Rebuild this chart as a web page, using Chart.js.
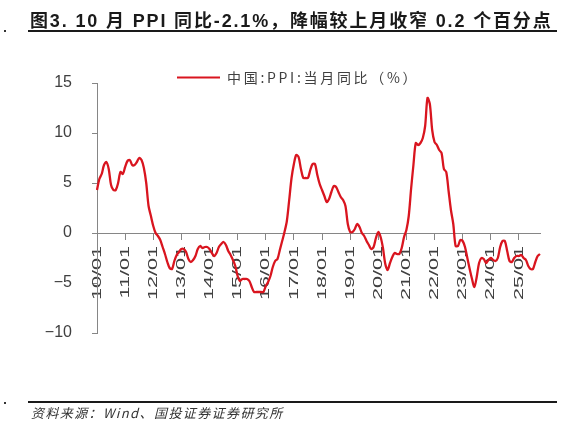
<!DOCTYPE html>
<html>
<head>
<meta charset="utf-8">
<script src="https://cdn.jsdelivr.net/npm/chart.js@4.4.1/dist/chart.umd.min.js"></script>
<style>
  html, body { margin:0; padding:0; background:#fff; }
  #wrap { position:relative; width:567px; height:425px; overflow:hidden; }
  #c { position:absolute; left:0; top:0; }
  .txt { position:absolute; white-space:nowrap; color:#1a1a1a; }
  #title { left:30px; top:6px; font-weight:bold; font-size:18px; font-family:"Liberation Sans","Noto Sans CJK SC",sans-serif; letter-spacing:1.85px; }
  #tline { position:absolute; left:28px; top:30px; width:529px; height:2px; background:#1a1a1a; }
  #bline { position:absolute; left:28px; top:401px; width:529px; height:2px; background:#1a1a1a; }
  .dot { position:absolute; width:2px; height:2px; background:#333; }
  #src { left:31px; top:403px; font-size:13px; font-style:italic; font-family:"Noto Sans CJK SC",sans-serif; color:#333; letter-spacing:1.4px; }
</style>
</head>
<body>
<div id="wrap">
  <canvas id="c" width="567" height="425"></canvas>
  <div class="txt" id="title">图3. 10 月 PPI 同比-2.1%，降幅较上月收窄 0.2 个百分点</div>
  <div id="tline"></div>
  <div class="dot" style="left:4px;top:30px;"></div>
  <div id="bline"></div>
  <div class="dot" style="left:4px;top:402px;"></div>
  <div class="txt" id="src">资料来源：Wind、国投证券证券研究所</div>
</div>
<script>
// ---- data ----
const years = [2010,2011,2012,2013,2014,2015,2016,2017,2018,2019,2020,2021,2022,2023,2024,2025];
const seriesName = '中国:PPI:当月同比（%）';
const ppiYoY = [
  // 2010
  4.3, 5.4, 5.9, 6.8, 7.1, 6.4, 4.8, 4.3, 4.3, 5.0, 6.1, 5.9,
  // 2011
  6.6, 7.2, 7.3, 6.8, 6.8, 7.1, 7.5, 7.3, 6.5, 5.0, 2.7, 1.7,
  // 2012
  0.7, 0.0, -0.3, -0.7, -1.4, -2.1, -2.9, -3.5, -3.6, -2.8, -2.2, -1.9,
  // 2013
  -1.6, -1.6, -1.9, -2.6, -2.9, -2.7, -2.3, -1.6, -1.3, -1.5, -1.4, -1.4,
  // 2014
  -1.6, -2.0, -2.3, -2.0, -1.4, -1.1, -0.9, -1.2, -1.8, -2.2, -2.7, -3.3,
  // 2015
  -4.3, -4.8, -4.6, -4.6, -4.6, -4.8, -5.4, -5.9, -5.9, -5.9, -5.9, -5.9,
  // 2016
  -5.3, -4.9, -4.3, -3.4, -2.8, -2.6, -1.7, -0.8, 0.1, 1.2, 3.3, 5.5,
  // 2017
  6.9, 7.8, 7.6, 6.4, 5.5, 5.5, 5.5, 6.3, 6.9, 6.9, 5.8, 4.9,
  // 2018
  4.3, 3.7, 3.1, 3.4, 4.1, 4.7, 4.6, 4.1, 3.6, 3.3, 2.7, 0.9,
  // 2019
  0.1, 0.1, 0.4, 0.9, 0.6, 0.0, -0.3, -0.8, -1.2, -1.6, -1.4, -0.5,
  // 2020
  0.1, -0.4, -1.5, -3.1, -3.7, -3.0, -2.4, -2.0, -2.1, -2.1, -1.5, -0.4,
  // 2021
  0.3, 1.7, 4.4, 6.8, 9.0, 8.8, 9.0, 9.5, 10.7, 13.5, 12.9, 10.3,
  // 2022
  9.1, 8.8, 8.3, 8.0, 6.4, 6.1, 4.2, 2.3, 0.9, -1.3, -1.3, -0.7,
  // 2023
  -0.8, -1.4, -2.5, -3.6, -4.6, -5.4, -4.4, -3.0, -2.5, -2.6, -3.0, -2.7,
  // 2024
  -2.5, -2.7, -2.8, -2.5, -1.4, -0.8, -0.8, -1.8, -2.8, -2.9, -2.5, -2.3,
  // 2025
  -2.3, -2.2, -2.5, -2.7, -3.3, -3.6, -3.6, -2.9, -2.3, -2.1
];
const yTicks = [-10, -5, 0, 5, 10, 15];

// categories: one label per month
const months = [];
years.forEach(y => { for (let m = 1; m <= 12; m++) months.push(String(y).slice(2) + '/' + String(m).padStart(2, '0')); });
const categories = months.slice(0, ppiYoY.length);

const RED = '#d9151f';
const AXIS = '#868686';
const LBL = '#404040';
const X_STRETCH = 1.6;

const legendPlugin = {
  id: 'customLegend',
  afterDraw(chart) {
    const ctx = chart.ctx;
    ctx.save();
    ctx.strokeStyle = RED;
    ctx.lineWidth = 2;
    ctx.beginPath();
    ctx.moveTo(177, 77.5);
    ctx.lineTo(220, 77.5);
    ctx.stroke();
    ctx.fillStyle = LBL;
    ctx.font = '14px "Noto Sans CJK SC", sans-serif';
    ctx.letterSpacing = '2.7px';
    ctx.textAlign = 'left';
    ctx.textBaseline = 'middle';
    ctx.fillText(chart.data.datasets[0].label, 227, 78);
    ctx.restore();
  }
};

// stretch the rotated x labels along their reading direction, like the source chart
const xLabelStretch = {
  id: 'xLabelStretch',
  afterUpdate(chart) {
    const xs = chart.scales.x;
    if (xs && !xs._patched) {
      const orig = xs.drawLabels;
      xs.drawLabels = function (area) {
        const ctx = this.ctx;
        const proto = Object.getPrototypeOf(ctx).fillText;
        ctx.fillText = function (t, x, y, mw) {
          this.save();
          this.scale(X_STRETCH, 1);
          if (mw !== undefined) proto.call(this, t, x / X_STRETCH, y, mw / X_STRETCH);
          else proto.call(this, t, x / X_STRETCH, y);
          this.restore();
        };
        try { orig.call(this, area); } finally { delete ctx.fillText; }
      };
      xs._patched = true;
    }
  }
};

const chart = new Chart(document.getElementById('c'), {
  type: 'line',
  data: {
    labels: categories,
    datasets: [{
      label: seriesName,
      data: ppiYoY,
      borderColor: RED,
      backgroundColor: RED,
      borderWidth: 2.3,
      pointRadius: 0,
      tension: 0.3,
      fill: false
    }]
  },
  options: {
    responsive: false,
    animation: false,
    devicePixelRatio: 1,
    layout: { padding: { top: 83, right: 27, bottom: 92, left: 0 } },
    plugins: { legend: { display: false }, tooltip: { enabled: false } },
    scales: {
      x: {
        type: 'category',
        position: { y: 0 },
        offset: false,
        grid: {
          drawOnChartArea: false,
          drawTicks: true,
          tickLength: 6,
          color: (c) => (c.index % 12 === 0 ? AXIS : 'rgba(0,0,0,0)'),
          lineWidth: 1
        },
        border: { display: true, color: AXIS, width: 1 },
        ticks: {
          autoSkip: false,
          minRotation: 90,
          maxRotation: 90,
          padding: 7,
          color: LBL,
          font: { family: '"Liberation Sans", Arial, sans-serif', size: 13.5 },
          callback: function (v, i) {
            const l = categories[i];
            return l.endsWith('/01') ? l : '';
          }
        }
      },
      y: {
        min: -10,
        max: 15,
        afterBuildTicks: (s) => { s.ticks = yTicks.map(v => ({ value: v })); },
        afterFit: (s) => { s.width = 97; },
        grid: { drawOnChartArea: false, drawTicks: true, tickLength: 5, color: AXIS },
        border: { display: true, color: AXIS, width: 1 },
        ticks: {
          padding: 20,
          color: LBL,
          font: { family: '"Liberation Sans", Arial, sans-serif', size: 16 },
          callback: (v) => (v < 0 ? '\u2212' + Math.abs(v) : String(v))
        }
      }
    }
  },
  plugins: [legendPlugin, xLabelStretch]
});
chart.draw();
</script>
</body>
</html>
